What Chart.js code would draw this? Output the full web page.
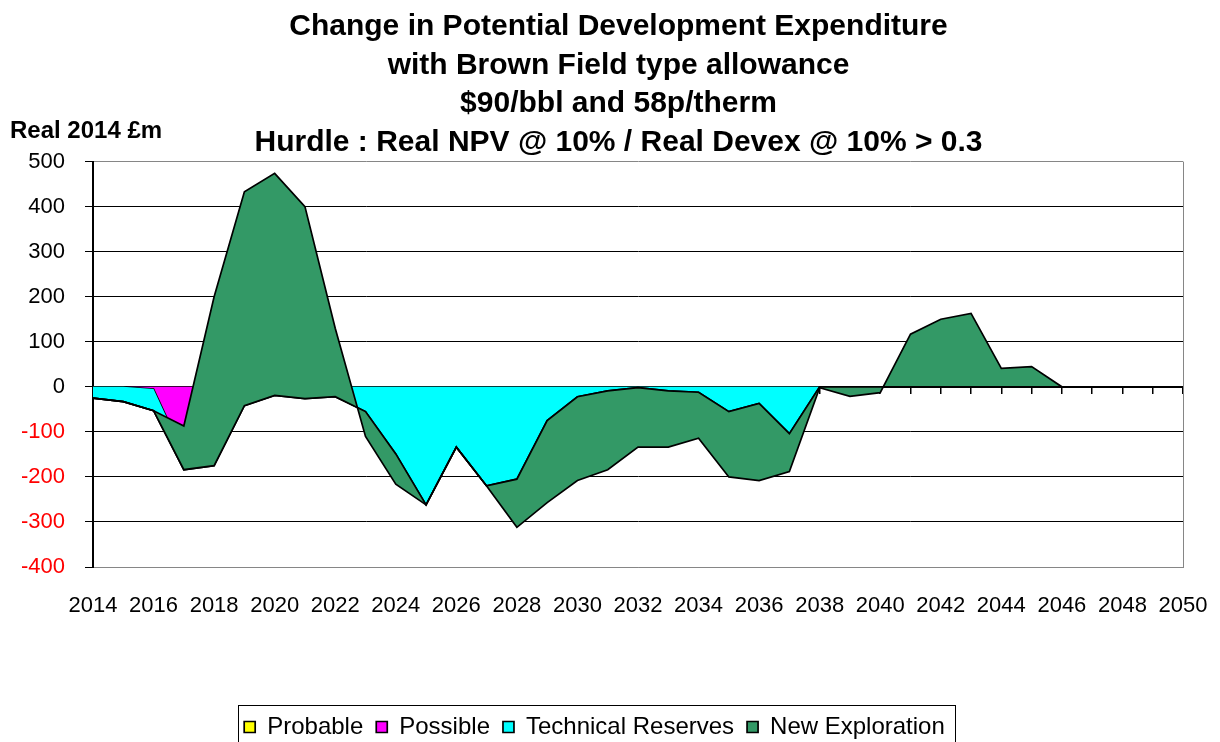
<!DOCTYPE html>
<html>
<head>
<meta charset="utf-8">
<title>Change in Potential Development Expenditure</title>
<script src="https://cdn.jsdelivr.net/npm/chart.js@4.4.1/dist/chart.umd.min.js"></script>
<style>
  html, body { margin: 0; padding: 0; background: #fff; }
</style>
</head>
<body>
<canvas id="graph1" width="1220" height="742"></canvas>
<script>
  // categories
  const years = [2014, 2015, 2016, 2017, 2018, 2019, 2020, 2021, 2022, 2023, 2024, 2025, 2026,
    2027, 2028, 2029, 2030, 2031, 2032, 2033, 2034, 2035, 2036, 2037, 2038, 2039, 2040, 2041,
    2042, 2043, 2044, 2045, 2046, 2047, 2048, 2049, 2050]

  // series values, Real 2014 £m
  const probable = [0, 0, 0, 0, 0, 0, 0, 0, 0, 0, 0, 0, 0,
    0, 0, 0, 0, 0, 0, 0, 0, 0, 0, 0, 0, 0, 0, 0,
    0, 0, 0, 0, 0, 0, 0, 0, 0]
  const possible = [0, 0, -5, -150, 0, 0, 0, 0, 0, 0, 0, 0, 0,
    0, 0, 0, 0, 0, 0, 0, 0, 0, 0, 0, 0, 0, 0, 0,
    0, 0, 0, 0, 0, 0, 0, 0, 0]
  const technicalReserves = [-25, -33, -48, -34, -175, -42, -19, -26, -22, -55, -149, -262, -134,
    -220, -205, -75, -22, -9, -2, -9, -12, -55, -37, -104, 0, 0, 0, 0,
    0, 0, 0, 0, 0, 0, 0, 0, 0]
  const newExploration = [0, 0, 0, 97, 375, 475, 493, 426, 152, -55, -67, 0, 0,
    0, -107, -182, -186, -175, -132, -125, -102, -145, -171, -84, -2, -21, -13, 117,
    150, 163, 41, 45, 0, 0, 0, 0, 0]

  const titleLines = [
    'Change in Potential Development Expenditure',
    'with Brown Field type allowance',
    '$90/bbl and 58p/therm',
    'Hurdle : Real NPV @ 10% / Real Devex @ 10% > 0.3'
  ]
  const unitLabel = 'Real 2014 £m'

  // excel style stacking: every series is added on top of the previous ones whatever the sign
  const stackUp = (...series) => years.map((yr, i) => series.reduce((sum, s) => sum + s[i], 0))
  const cumProbable = stackUp(probable)
  const cumPossible = stackUp(probable, possible)
  const cumTechnical = stackUp(probable, possible, technicalReserves)
  const cumNew = stackUp(probable, possible, technicalReserves, newExploration)

  const dark = '#000000'
  const frame = '#868686'
  Chart.defaults.font.family = "Arial, 'Liberation Sans', sans-serif"
  Chart.defaults.color = dark

  const area = (label, data, colour, order, fill) => ({
    label: label,
    data: data,
    order: order,
    fill: fill,
    backgroundColor: colour,
    borderColor: dark,
    borderWidth: 1.7,
    pointRadius: 0,
    pointHoverRadius: 0,
    tension: 0
  })

  const extras = {
    id: 'extras',
    afterLayout(chart) {
      // title sits right of the plot centre, legend a bit left of the title, as in the original
      const tb = chart.titleBlock
      tb.left += 27
      tb.right += 27
      const lg = chart.legend
      lg.left += 3
      lg.right += 3
    },
    beforeDatasetsDraw(chart) {
      const {ctx, chartArea} = chart
      ctx.save()
      ctx.strokeStyle = frame
      ctx.lineWidth = 1
      ctx.beginPath()
      ctx.moveTo(chartArea.right + 0.5, chartArea.top)
      ctx.lineTo(chartArea.right + 0.5, chartArea.bottom)
      ctx.stroke()
      ctx.restore()
    },
    afterDraw(chart) {
      const {ctx, chartArea} = chart
      ctx.save()
      ctx.fillStyle = dark
      ctx.font = "bold 24px Arial, 'Liberation Sans', sans-serif"
      ctx.textAlign = 'left'
      ctx.textBaseline = 'middle'
      ctx.fillText(unitLabel, 10, chartArea.top - 30)

      const boxes = chart.legend.legendHitBoxes
      if (boxes && boxes.length) {
        const first = boxes[0]
        const last = boxes[boxes.length - 1]
        const x0 = first.left - 6
        const x1 = last.left + last.width + 10
        const y0 = first.top + first.height / 2 - 22
        ctx.strokeStyle = dark
        ctx.lineWidth = 1
        ctx.strokeRect(Math.round(x0) + 0.5, Math.round(y0) + 0.5, Math.round(x1 - x0), 80)
      }
      ctx.restore()
    }
  }

  const ctx = document.getElementById('graph1')

  new Chart(ctx, {
    type: 'line',
    data: {
      labels: years,
      datasets: [
        area('Probable', cumProbable, '#ffff00', 4, 'origin'),
        area('Possible', cumPossible, '#ff00ff', 3, '-1'),
        area('Technical Reserves', cumTechnical, '#00ffff', 2, '-1'),
        area('New Exploration', cumNew, '#339966', 1, '-1'),
        // outline of the bottom edge of the new exploration area
        area('', cumTechnical, 'transparent', 0, false)
      ]
    },
    options: {
      responsive: false,
      animation: false,
      layout: { padding: { left: 0, right: 37, top: 0, bottom: -7 } },
      plugins: {
        title: {
          display: true,
          text: titleLines,
          color: dark,
          font: { size: 30, weight: 'bold', lineHeight: 1.28 },
          padding: { top: 8, bottom: 0 }
        },
        legend: {
          position: 'bottom',
          labels: {
            font: { size: 24 },
            color: dark,
            boxWidth: 11,
            boxHeight: 11,
            padding: 13,
            filter: item => item.datasetIndex < 4,
            sort: (a, b) => a.datasetIndex - b.datasetIndex
          }
        },
        tooltip: { enabled: false }
      },
      scales: {
        x: {
          type: 'category',
          // invisible tick marks give the gap under the plot without widening the side padding
          grid: { display: true, drawOnChartArea: false, drawTicks: true, tickLength: 26, tickColor: 'transparent' },
          border: { display: true, color: frame, width: 1 },
          ticks: {
            autoSkip: false,
            maxRotation: 0,
            padding: 0,
            font: { size: 22 },
            color: dark,
            callback: (v, i) => (i % 2 === 0 ? String(years[i]) : '')
          },
          afterFit: s => { s.height = 135 }
        },
        x2: {
          type: 'category',
          position: { y: 0 },
          z: 1,
          grid: { drawOnChartArea: false, drawTicks: true, tickLength: 6, color: dark, lineWidth: 1.5 },
          border: { display: true, color: dark, width: 2 },
          ticks: { display: false }
        },
        y: {
          min: -400,
          max: 500,
          ticks: {
            stepSize: 100,
            padding: 20,
            font: { size: 22 },
            color: c => (c.tick.value < 0 ? '#ff0000' : dark)
          },
          grid: {
            color: c => (c.tick.value === 500 || c.tick.value === -400 ? frame : dark),
            tickColor: dark,
            tickLength: 8,
            lineWidth: 1
          },
          border: { color: dark, width: 2 },
          afterFit: s => { s.width = 93 }
        }
      }
    },
    plugins: [extras]
  })
</script>
</body>
</html>
